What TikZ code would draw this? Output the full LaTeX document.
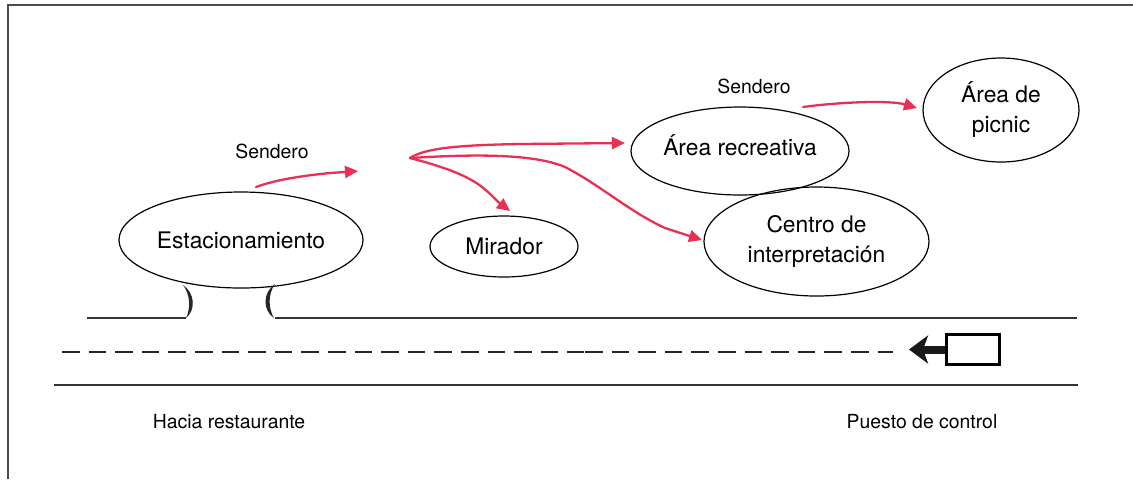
\documentclass[tikz,border=0pt]{standalone}
\usepackage{fontspec}
\setmainfont{TeX Gyre Heros}
\usetikzlibrary{arrows.meta}
\usetikzlibrary{shapes.geometric}
\definecolor{trailred}{RGB}{233,48,82}

\begin{document}
\begin{tikzpicture}[x=0.5pt,y=-0.5pt,>={Triangle[length=6.5pt,width=6pt]},
		semithick]
		\tikzstyle{area}=[draw,ellipse,inner sep=-3pt,line width=0.6pt,
		font=\fontsize{11.4}{15}\selectfont,align=center]
		\tikzstyle{note}=[anchor=base,font=\fontsize{9.7}{12}\selectfont]
		\tikzstyle{road}=[line width=0.65pt,draw=black!80]
		\tikzstyle{trailarrow}=[->,draw=trailred,fill=none,line width=1.15pt,
		line cap=round]
		\tikzstyle{midline}=[line width=1pt,draw=black!85,
		dash pattern=on 8.75pt off 4.55pt]
		
		\useasboundingbox (0,0) rectangle (1133,479);
		\draw[line width=1pt,black!70] (8,479) -- (8,5) -- (1133,5);
		
		\node[area,minimum width=122pt,minimum height=48pt] (Estacionamiento) at (241,240) {Estacionamiento};
		\node[area,minimum width=74pt,minimum height=30.5pt] (Mirador)   at (504,246.5) {Mirador};
		\node[area,minimum width=109pt,minimum height=44pt,text depth=6.4pt] (Recreativa) at (740,151) {Área recreativa};
		\node[area,minimum width=112.5pt,minimum height=54.5pt] (Centro) at (816.5,241.5) {Centro de\\interpretación};
		\node[area,minimum width=78pt,minimum height=52pt] (Picnic)      at (1001,110)  {Área de\\picnic};
		
		\node[note] (SenderoA)    at (272,158) {Sendero};
		\node[note] (SenderoB)    at (754,93)  {Sendero};
		\node[note] (Restaurante) at (229,428) {Hacia restaurante};
		\node[note] (Control)     at (922,428) {Puesto de control};
		
		% road and entrance
		\draw[road] (87,318) -- (186,318);
		\draw[road] (275,318) -- (1077,318);
		\draw[road] (54,385) -- (1078,385);
		\draw[midline] (62,352) -- (584,352);
		\draw[midline] (585,352) -- (893,352);
		\fill[black!85] (183,285) .. controls (195,293) and (196,310) .. (186,318)
		.. controls (191,308) and (190,294) .. (183,285) -- cycle;
		\fill[black!85] (275,284) .. controls (263,292) and (262,310) .. (274,318)
		.. controls (268,308) and (268,294) .. (275,284) -- cycle;
		
		\node[draw,line width=1.5pt,minimum width=26.5pt,minimum height=15pt,
		inner sep=0pt] (Caseta) at (972.75,349.5) {};
		\coordinate (Entrada) at (909,349.5);
		\draw[line width=4pt,black!90,-{Stealth[length=9.5pt,width=14pt,inset=2.5pt]}]
		(Caseta.west) -- (Entrada);
		
		% trails
		\coordinate (StartA)         at (256,187);
		\coordinate (EndA)           at (358,171);
		\coordinate (Cruce)          at (410,158);
		\coordinate (EndRecreativa)  at (625,143);
		\coordinate (EndMirador)     at (510,211);
		\coordinate (EndCentro)      at (702,240);
		\coordinate (StartB)         at (803,107);
		\coordinate (EndPicnic)      at (917,108);
		
		\draw[trailarrow] (StartA) .. controls (275,180) and (300,176) .. (330,173) -- (EndA);
		\draw[trailarrow] (Cruce) .. controls (425,148) and (460,145) .. (520,144) -- (EndRecreativa);
		\draw[trailarrow] (Cruce) .. controls (445,167) and (468,176) .. (482,187)
		.. controls (491,194) and (498,202) .. (EndMirador);
		\draw[trailarrow] (Cruce) .. controls (460,155) and (530,152) .. (565,167)
		.. controls (600,185) and (630,212) .. (665,228) -- (EndCentro);
		\draw[trailarrow] (StartB) .. controls (840,102) and (890,100) .. (EndPicnic);
\end{tikzpicture}
\end{document}
